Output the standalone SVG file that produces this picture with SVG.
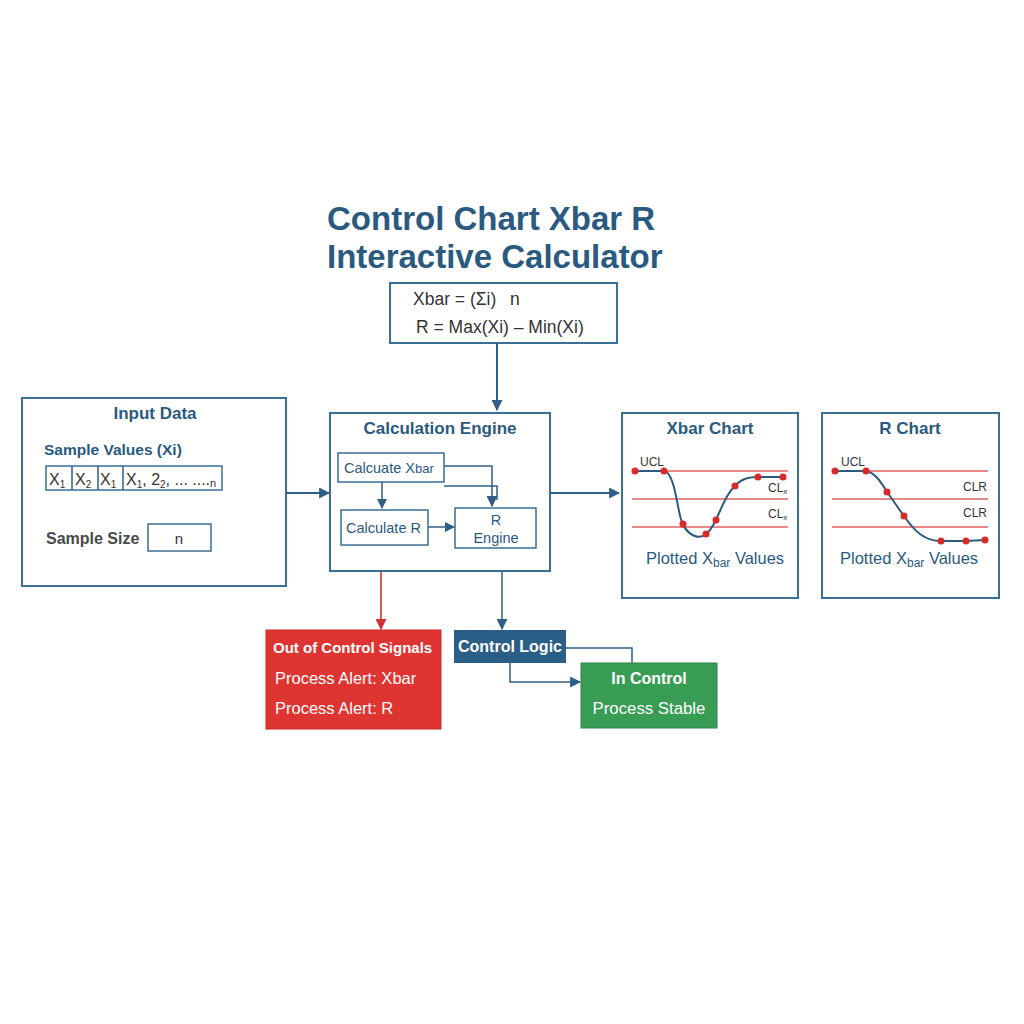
<svg xmlns="http://www.w3.org/2000/svg" width="1024" height="1024" viewBox="0 0 1024 1024">
<defs>
<style>
.box{fill:#fff;stroke:#3a6f96;stroke-width:2}
.small{fill:#fff;stroke:#3a6f96;stroke-width:1.5}
.t{font-family:"Liberation Sans",Arial,sans-serif}
.ttl{font-family:"Liberation Sans",Arial,sans-serif;font-weight:bold;fill:#2a5a80}
.lbl{font-family:"Liberation Sans",Arial,sans-serif;fill:#2a5a80}
.conn{fill:none;stroke:#2f5f86;stroke-width:2}
.thin{fill:none;stroke:#2f5f86;stroke-width:1.5}
.lim{stroke:#e06060;stroke-width:1.6}
.curve{fill:none;stroke:#2b5b7f;stroke-width:2}
.pt{fill:#d92a2a}
</style>
<marker id="ab" viewBox="0 0 10 10" refX="9" refY="5" markerWidth="10" markerHeight="10" orient="auto" markerUnits="userSpaceOnUse"><path d="M0,0 L10,5 L0,10 z" fill="#2f5f86"/></marker>
<marker id="abl" viewBox="0 0 10 10" refX="9" refY="5" markerWidth="11" markerHeight="11" orient="auto" markerUnits="userSpaceOnUse"><path d="M0,0 L10,5 L0,10 z" fill="#2f5f86"/></marker>
<marker id="ar" viewBox="0 0 10 10" refX="9" refY="5" markerWidth="11" markerHeight="11" orient="auto" markerUnits="userSpaceOnUse"><path d="M0,0 L10,5 L0,10 z" fill="#d33030"/></marker>
</defs>
<rect width="1024" height="1024" fill="#fff"/>

<g id="title">
<text class="ttl" x="327" y="230" font-size="33">Control Chart Xbar R</text>
<text class="ttl" x="327" y="268" font-size="33">Interactive Calculator</text>
</g>

<g id="formula">
<rect class="box" x="390" y="283" width="227" height="60"/>
<text class="t" x="413" y="305" font-size="17.5" fill="#333">Xbar = (Σi)<tspan x="510">n</tspan></text>
<text class="t" x="416" y="333" font-size="17.5" fill="#333">R = Max(Xi) – Min(Xi)</text>
</g>

<g id="input-data">
<rect class="box" x="22" y="398" width="264" height="188"/>
<text class="ttl" x="155" y="419" font-size="17" text-anchor="middle">Input Data</text>
<text class="lbl" x="44" y="455" font-size="15.5" style="font-weight:600">Sample Values (Xi)</text>
<rect class="small" x="46" y="466" width="176" height="24"/>
<line class="thin" x1="72" y1="466" x2="72" y2="490"/>
<line class="thin" x1="98" y1="466" x2="98" y2="490"/>
<line class="thin" x1="123" y1="466" x2="123" y2="490"/>
<text class="t" font-size="16" fill="#333" y="485"><tspan x="49">X</tspan><tspan font-size="10" dy="3">1</tspan><tspan x="75" dy="-3">X</tspan><tspan font-size="10" dy="3">2</tspan><tspan x="100" dy="-3">X</tspan><tspan font-size="10" dy="3">1</tspan><tspan x="126" dy="-3">X</tspan><tspan font-size="10" dy="3">1</tspan><tspan dy="-3">, 2</tspan><tspan font-size="10" dy="3">2</tspan><tspan dy="-3">, ... ....</tspan><tspan font-size="11" dy="2">n</tspan></text>
<text class="t" x="46" y="544" font-size="16" font-weight="bold" fill="#4a4a4a">Sample Size</text>
<rect class="small" x="148" y="524" width="63" height="27"/>
<text class="t" x="179" y="544" font-size="15" fill="#333" text-anchor="middle">n</text>
</g>

<g id="calc-engine">
<rect class="box" x="330" y="413" width="220" height="158"/>
<text class="ttl" x="440" y="434" font-size="17" text-anchor="middle">Calculation Engine</text>
</g>
<g id="calc-xbar">
<rect class="small" x="338" y="453" width="106" height="29"/>
<text class="lbl" x="344" y="473" font-size="14.5">Calcuate X<tspan font-size="13">bar</tspan></text>
</g>
<g id="calc-r">
<rect class="small" x="341" y="510" width="87" height="35"/>
<text class="lbl" x="346" y="533" font-size="14.5">Calculate R</text>
</g>
<g id="r-engine">
<rect class="small" x="455" y="508" width="81" height="40"/>
<text class="lbl" x="496" y="525" font-size="14.5" text-anchor="middle">R</text>
<text class="lbl" x="496" y="543" font-size="14.5" text-anchor="middle">Engine</text>
</g>

<g id="xbar-chart">
<rect class="box" x="622" y="413" width="176" height="185"/>
<text class="ttl" x="710" y="434" font-size="17" text-anchor="middle">Xbar Chart</text>
<line class="lim" x1="632" y1="471" x2="788" y2="471"/>
<line class="lim" x1="632" y1="499" x2="788" y2="499"/>
<line class="lim" x1="632" y1="527" x2="788" y2="527"/>
<path class="curve" d="M635,471 L664,471 C676,472 678,520 683,524 C688,536 700,540 706,534 C710,531 713,526 716,520 C722,506 728,492 735,486 C742,478 750,477 758,477 L783,477"/>
<g class="pt"><circle cx="635" cy="471" r="3.5"/><circle cx="664" cy="471" r="3.5"/><circle cx="683" cy="524" r="3.5"/><circle cx="706" cy="534" r="3.5"/><circle cx="716" cy="520" r="3.5"/><circle cx="735" cy="486" r="3.5"/><circle cx="758" cy="477" r="3.5"/><circle cx="783" cy="477" r="3.5"/></g>
<text class="t" x="640" y="466" font-size="12" fill="#333">UCL</text>
<text class="t" x="768" y="492" font-size="12" fill="#333">CL<tspan font-size="8" dy="2">x</tspan></text>
<text class="t" x="768" y="518" font-size="12" fill="#333">CL<tspan font-size="8" dy="2">x</tspan></text>
<text class="lbl" x="646" y="564" font-size="16.5">Plotted X<tspan font-size="12" dy="3">bar</tspan><tspan dy="-3"> Values</tspan></text>
</g>

<g id="r-chart">
<rect class="box" x="822" y="413" width="177" height="185"/>
<text class="ttl" x="910" y="434" font-size="17" text-anchor="middle">R Chart</text>
<line class="lim" x1="832" y1="471" x2="988" y2="471"/>
<line class="lim" x1="832" y1="499" x2="988" y2="499"/>
<line class="lim" x1="832" y1="527" x2="988" y2="527"/>
<path class="curve" d="M835,471 L866,471 C876,473 882,484 887,492 C893,500 898,508 904,516 C915,532 925,541 941,541 L966,541 L985,540"/>
<g class="pt"><circle cx="835" cy="471" r="3.5"/><circle cx="866" cy="471" r="3.5"/><circle cx="887" cy="492" r="3.5"/><circle cx="904" cy="516" r="3.5"/><circle cx="941" cy="541" r="3.5"/><circle cx="966" cy="541" r="3.5"/><circle cx="985" cy="540" r="3.5"/></g>
<text class="t" x="841" y="466" font-size="12" fill="#333">UCL</text>
<text class="t" x="963" y="491" font-size="12" fill="#333">CLR</text>
<text class="t" x="963" y="517" font-size="12" fill="#333">CLR</text>
<text class="lbl" x="840" y="564" font-size="16.5">Plotted X<tspan font-size="12" dy="3">bar</tspan><tspan dy="-3"> Values</tspan></text>
</g>

<g id="out-of-control">
<rect x="266" y="630" width="175" height="99" fill="#de3532" stroke="#c52a28" stroke-width="1"/>
<text class="t" x="273" y="653" font-size="15" font-weight="bold" fill="#fff">Out of Control Signals</text>
<text class="t" x="275" y="684" font-size="16.5" fill="#fff">Process Alert: Xbar</text>
<text class="t" x="275" y="714" font-size="16.5" fill="#fff">Process Alert: R</text>
</g>

<g id="control-logic">
<rect x="454" y="630" width="112" height="33" fill="#2b5e87"/>
<text class="t" x="510" y="652" font-size="16" font-weight="bold" fill="#fff" text-anchor="middle">Control Logic</text>
</g>

<g id="in-control">
<rect x="581" y="663" width="136" height="65" fill="#389c55" stroke="#2e8548" stroke-width="1"/>
<text class="t" x="649" y="684" font-size="16" font-weight="bold" fill="#fff" text-anchor="middle">In Control</text>
<text class="t" x="649" y="714" font-size="16.8" fill="#fff" text-anchor="middle">Process Stable</text>
</g>

<g id="connectors">
<line class="conn" x1="497" y1="343" x2="497" y2="410" marker-end="url(#abl)"/>
<line class="conn" x1="286" y1="493" x2="329" y2="493" marker-end="url(#abl)"/>
<line class="conn" x1="550" y1="493" x2="619" y2="493" marker-end="url(#abl)"/>
<path class="thin" d="M444,466 L492,466 L492,506" marker-end="url(#abl)"/>
<path class="thin" d="M444,486 L497,486 L497,500"/>
<line class="thin" x1="382" y1="482" x2="382" y2="508" marker-end="url(#ab)"/>
<line class="thin" x1="428" y1="527" x2="454" y2="527" marker-end="url(#ab)"/>
<line x1="381" y1="572" x2="381" y2="629" stroke="#d33030" stroke-width="1.6" marker-end="url(#ar)"/>
<line class="thin" x1="502" y1="572" x2="502" y2="629" marker-end="url(#abl)"/>
<path class="thin" d="M566,648 L632,648 L632,663"/>
<path class="thin" d="M510,663 L510,682 L580,682" marker-end="url(#abl)"/>
</g>
</svg>
